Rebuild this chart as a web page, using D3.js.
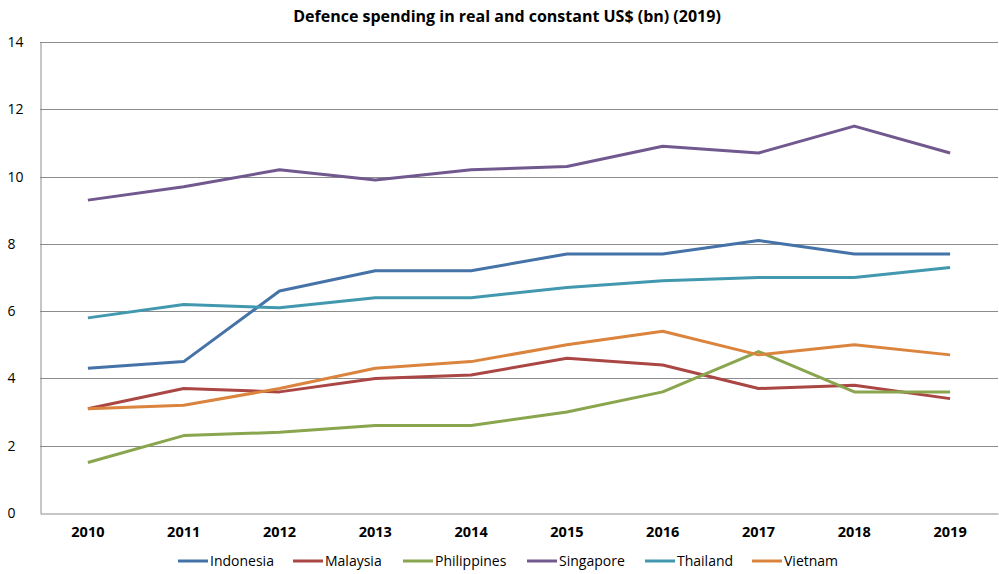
<!DOCTYPE html>
<html>
<head>
<meta charset="utf-8">
<script src="https://cdn.jsdelivr.net/npm/d3@7"></script>
<style>
  html, body { margin: 0; padding: 0; background: #fff; }
  svg { display: block; font-family: "Open Sans", "DejaVu Sans", sans-serif; }
</style>
</head>
<body>
<svg id="chart" width="999" height="574"></svg>
<script>
// Defence spending, US$ bn (constant 2019)
const years = ["2010", "2011", "2012", "2013", "2014", "2015", "2016", "2017", "2018", "2019"];
const indonesia   = [4.3, 4.5, 6.6, 7.2, 7.2, 7.7, 7.7, 8.1, 7.7, 7.7];
const malaysia    = [3.1, 3.7, 3.6, 4.0, 4.1, 4.6, 4.4, 3.7, 3.8, 3.4];
const philippines = [1.5, 2.3, 2.4, 2.6, 2.6, 3.0, 3.6, 4.8, 3.6, 3.6];
const singapore   = [9.3, 9.7, 10.2, 9.9, 10.2, 10.3, 10.9, 10.7, 11.5, 10.7];
const thailand    = [5.8, 6.2, 6.1, 6.4, 6.4, 6.7, 6.9, 7.0, 7.0, 7.3];
const vietnam     = [3.1, 3.2, 3.7, 4.3, 4.5, 5.0, 5.4, 4.7, 5.0, 4.7];
const yTicks = [0, 2, 4, 6, 8, 10, 12, 14];

const series = [
  { name: "Indonesia",   values: indonesia,   color: "#4572A7" },
  { name: "Malaysia",    values: malaysia,    color: "#AA4643" },
  { name: "Philippines", values: philippines, color: "#89A54E" },
  { name: "Singapore",   values: singapore,   color: "#71588F" },
  { name: "Thailand",    values: thailand,    color: "#4198AF" },
  { name: "Vietnam",     values: vietnam,     color: "#DB843D" }
];

const svg = d3.select("#chart");
const plot = { left: 40, right: 998, top: 42, bottom: 513 };

const x = d3.scaleBand().domain(years).range([plot.left, plot.right]);
const y = d3.scaleLinear().domain([0, 14]).range([plot.bottom, plot.top]);

// Title
svg.append("text")
  .attr("x", 507).attr("y", 22)
  .attr("text-anchor", "middle")
  .attr("font-size", 16).attr("font-weight", "bold")
  .attr("fill", "#000")
  .text("Defence spending in real and constant US$ (bn) (2019)");

// Horizontal gridlines
svg.append("g")
  .selectAll("line")
  .data(yTicks.filter(t => t > 0))
  .join("line")
  .attr("x1", plot.left).attr("x2", plot.right)
  .attr("y1", d => Math.round(y(d)) + 0.5).attr("y2", d => Math.round(y(d)) + 0.5)
  .attr("stroke", "#8c8c8c").attr("stroke-width", 1);

// Y axis
const yAxis = svg.append("g")
  .attr("transform", `translate(${plot.left + 0.5},0)`)
  .call(d3.axisLeft(y).tickValues(yTicks).tickSize(0).tickPadding(8).tickFormat(d3.format("d")));
yAxis.select(".domain").attr("stroke", "#8c8c8c");
yAxis.selectAll("text").attr("font-size", 14).attr("fill", "#000")
  .attr("font-family", "'Open Sans', sans-serif")
  .attr("text-anchor", "start").attr("x", -33);

// X axis
const xAxis = svg.append("g")
  .attr("transform", `translate(0,${Math.round(plot.bottom) + 0.5})`)
  .call(d3.axisBottom(x).tickSize(0).tickPadding(13));
xAxis.select(".domain").attr("stroke", "#8c8c8c");
xAxis.selectAll("text").attr("font-size", 14.5).attr("font-weight", "bold").attr("fill", "#000")
  .attr("font-family", "'Open Sans', sans-serif");

// Series lines
const line = d3.line()
  .x((d, i) => x(years[i]) + x.bandwidth() / 2)
  .y(d => y(d));

svg.append("g")
  .selectAll("path")
  .data(series)
  .join("path")
  .attr("d", d => line(d.values))
  .attr("fill", "none")
  .attr("stroke", d => d.color)
  .attr("stroke-width", 3)
  .attr("stroke-linejoin", "round");

// Legend
const legendX = [178, 293, 403, 527, 645, 752];
const legend = svg.append("g")
  .selectAll("g")
  .data(series)
  .join("g")
  .attr("transform", (d, i) => `translate(${legendX[i]},561)`);
legend.append("line")
  .attr("x1", 0).attr("x2", 30).attr("y1", 0).attr("y2", 0)
  .attr("stroke", d => d.color).attr("stroke-width", 3);
legend.append("text")
  .attr("x", 32).attr("y", 5)
  .attr("font-size", 14).attr("fill", "#000")
  .text(d => d.name);
</script>
</body>
</html>
